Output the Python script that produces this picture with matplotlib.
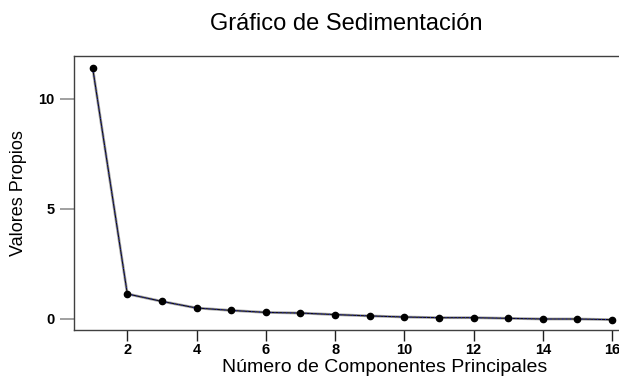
import matplotlib.pyplot as plt
import numpy as np

plt.rcParams['font.family'] = ['Liberation Sans', 'DejaVu Sans']

# valores propios por componente
componentes = np.arange(1, 17)
valores = [11.40, 1.14, 0.80, 0.50, 0.39, 0.30, 0.27, 0.20,
           0.14, 0.09, 0.06, 0.06, 0.03, 0.00, 0.00, -0.03]
xticks = [2, 4, 6, 8, 10, 12, 14, 16]
yticks = [0, 5, 10]

fig = plt.figure(figsize=(6.19, 3.76), dpi=100)
ax = fig.add_axes([74 / 619, 46 / 376, 545 / 619, 274 / 376])

# sombra gris, linea negra y punteado azul
ax.plot(componentes, valores, color='#a8a8a8', lw=2.0, zorder=1)
ax.plot(componentes, valores, color='#101010', lw=0.8, zorder=2)
ax.plot(componentes, valores, color='#2020d0', lw=0.7, ls=(0, (1, 3)), zorder=3)
ax.plot(componentes, valores, 'o', color='black', ms=4.5, zorder=4)

ax.set_xlim(0.46, 16.2)
ax.set_ylim(-0.5, 11.95)
ax.set_xticks(xticks)
ax.set_yticks(yticks)

for s in ['left', 'top', 'bottom']:
    ax.spines[s].set_color('#404040')
    ax.spines[s].set_linewidth(1.0)
ax.spines['right'].set_visible(False)

ax.tick_params(axis='x', length=8, width=1, color='#202020', labelsize=10.5, pad=1.5)
ax.tick_params(axis='y', length=10, width=1.2, color='#909090', labelsize=10.5, pad=4)
for lab in ax.get_xticklabels() + ax.get_yticklabels():
    lab.set_fontweight('bold')

ax.set_ylabel('Valores Propios', fontsize=13, labelpad=8)
fig.text(385 / 619, 1 - 368 / 376, 'Número de Componentes Principales',
         fontsize=14, ha='center', va='center')
fig.text(346 / 619, 1 - 24 / 376, 'Gráfico de Sedimentación', fontsize=17,
         ha='center', va='center')

fig.savefig('out.png', dpi=100)
